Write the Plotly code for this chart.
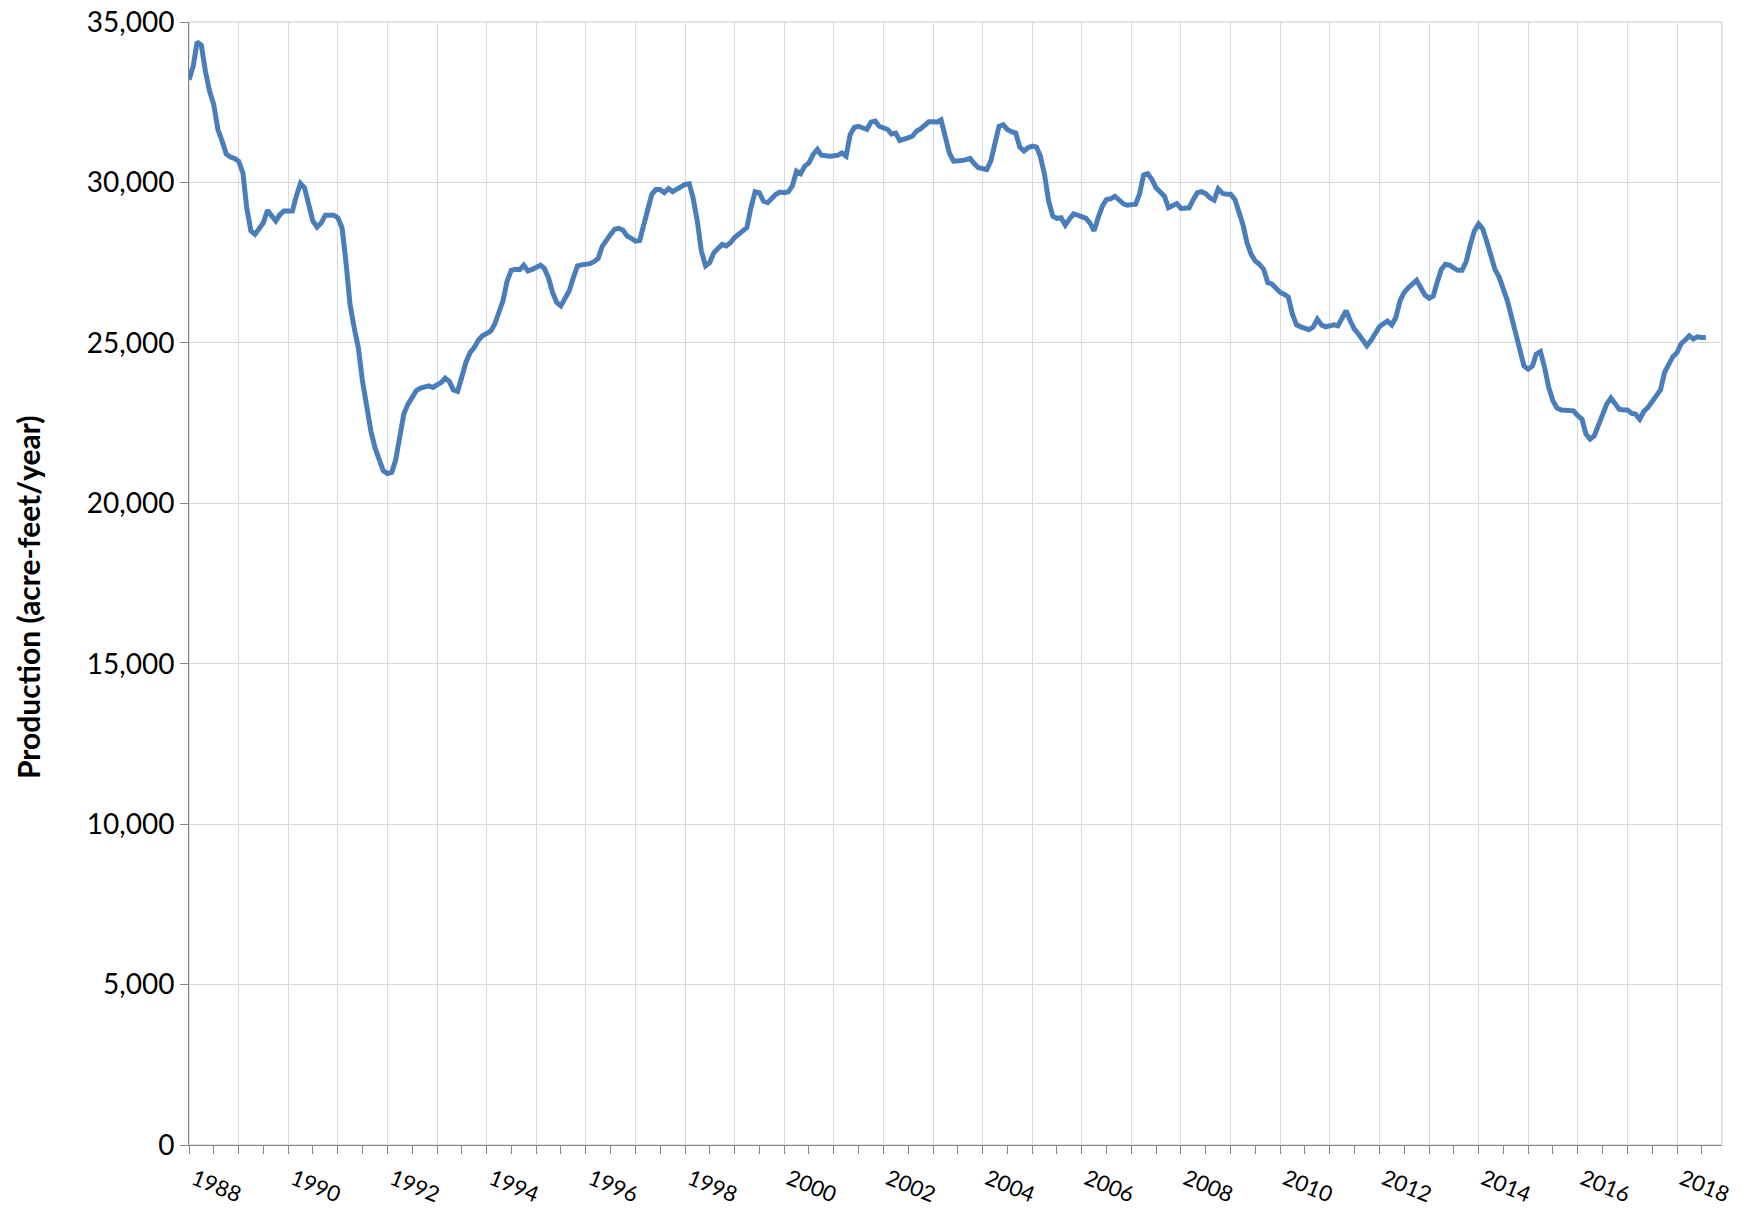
import pandas as pd
import plotly.graph_objects as go

# Monthly production (acre-feet/year), Jan 1988 .. Aug 2018
start_month = "1988-01-01"
production = [
    # 1988
    33200, 33620, 34380, 34270, 33460, 32840, 32430, 31650, 31290, 30890, 30790, 30750,
    # 1989
    30660, 30300, 29210, 28490, 28380, 28570, 28740, 29130, 28950, 28800, 29000, 29110,
    # 1990
    29110, 29110, 29570, 29970, 29830, 29260, 28800, 28610, 28740, 28980, 28980, 28980,
    # 1991
    28900, 28590, 27550, 26200, 25480, 24850, 23820, 22990, 22260, 21740, 21330, 21020,
    # 1992
    20930, 20960, 21330, 22050, 22780, 23090, 23300, 23510, 23590, 23630, 23660, 23610,
    # 1993
    23690, 23770, 23900, 23800, 23530, 23490, 23920, 24390, 24700, 24850, 25080, 25220,
    # 1994
    25290, 25370, 25580, 26000, 26310, 26930, 27260, 27290, 27280, 27420, 27240, 27290,
    # 1995
    27370, 27420, 27320, 27030, 26570, 26260, 26150, 26410, 26620, 27030, 27400, 27430,
    # 1996
    27450, 27470, 27530, 27630, 28010, 28230, 28380, 28540, 28570, 28510, 28330, 28260,
    # 1997
    28170, 28190, 28690, 29210, 29630, 29780, 29780, 29680, 29810, 29710, 29780, 29890,
    # 1998
    29940, 29960, 29520, 28800, 27860, 27400, 27500, 27810, 27970, 28070, 28020, 28120,
    # 1999
    28280, 28380, 28460, 28590, 29210, 29710, 29680, 29420, 29370, 29520, 29630, 29700,
    # 2000
    29680, 29710, 29890, 30350, 30270, 30510, 30610, 30870, 31030, 30850, 30820, 30820,
    # 2001
    30830, 30850, 30920, 30820, 31490, 31720, 31750, 31700, 31650, 31880, 31910, 31750,
    # 2002
    31680, 31650, 31510, 31540, 31310, 31340, 31390, 31440, 31600, 31670, 31780, 31890,
    # 2003
    31890, 31880, 31950, 31490, 30920, 30660, 30660, 30680, 30710, 30750, 30580, 30460,
    # 2004
    30430, 30400, 30660, 31180, 31750, 31800, 31650, 31580, 31540, 31100, 30980, 31080,
    # 2005
    31130, 31100, 30820, 30250, 29420, 28950, 28880, 28900, 28670, 28850, 29020, 28980,
    # 2006
    28950, 28880, 28740, 28490, 28900, 29260, 29470, 29490, 29570, 29470, 29340, 29290,
    # 2007
    29320, 29320, 29630, 30230, 30270, 30090, 29830, 29680, 29570, 29210, 29290, 29340,
    # 2008
    29190, 29190, 29210, 29470, 29680, 29710, 29650, 29520, 29450, 29800, 29660, 29630,
    # 2009
    29630, 29470, 29110, 28690, 28120, 27760, 27550, 27450, 27290, 26880, 26830, 26700,
    # 2010
    26570, 26510, 26430, 25890, 25560, 25500, 25460, 25410, 25500, 25740, 25560, 25500,
    # 2011
    25530, 25560, 25530, 25810, 26000, 25680, 25430, 25270, 25080, 24910, 25080, 25320,
    # 2012
    25500, 25600, 25680, 25560, 25790, 26310, 26570, 26720, 26830, 26950, 26720, 26490,
    # 2013
    26390, 26460, 26880, 27290, 27450, 27420, 27340, 27260, 27260, 27530, 28070, 28490,
    # 2014
    28710, 28540, 28170, 27710, 27290, 27050, 26720, 26310, 25790, 25270, 24750, 24280,
    # 2015
    24180, 24280, 24650, 24730, 24240, 23610, 23200, 22970, 22910, 22910, 22910, 22880,
    # 2016
    22730, 22620, 22160, 22000, 22100, 22460, 22800, 23090, 23280, 23090, 22930, 22910,
    # 2017
    22910, 22800, 22780, 22620, 22860, 22990, 23170, 23350, 23530, 24080, 24340, 24570,
    # 2018
    24700, 24980, 25080, 25220, 25120, 25190, 25170, 25170,
]
dates = pd.date_range(start=start_month, periods=len(production), freq="MS")

years = list(range(1988, 2019))
year_ticks = [f"{y}-01-01" for y in years]
year_labels = [str(y) if y % 2 == 0 else "" for y in years]
half_ticks = [f"{y}-07-01" for y in years]

y_ticks = [0, 5000, 10000, 15000, 20000, 25000, 30000, 35000]
y_title = "Production (acre-feet/year)"

AXIS = "#868686"
GRID = "#d9d9d9"
FONT = "Lato"

fig = go.Figure()
fig.add_trace(go.Scatter(
    x=dates, y=production, mode="lines",
    line=dict(color="#4a7ebb", width=5),
    showlegend=False,
))

fig.update_layout(
    width=1741, height=1210,
    margin=dict(l=189, r=19, t=22, b=65),
    paper_bgcolor="white", plot_bgcolor="white",
    font=dict(family=FONT, size=21, color="black"),
    shapes=[dict(type="rect", xref="paper", yref="paper", x0=0, x1=1, y0=0, y1=1,
                 line=dict(color="#c8c8c8", width=1), layer="below")],
    annotations=[dict(text=f"<b>{y_title}</b>", textangle=-90,
                      xref="paper", yref="paper", x=-0.105, y=0.488,
                      xanchor="center", yanchor="middle", showarrow=False,
                      font=dict(family=FONT, size=30, color="black"))],
)
fig.update_xaxes(
    type="date",
    automargin=False,
    range=["1988-01-01", "2018-11-28"],
    tickmode="array", tickvals=year_ticks, ticktext=year_labels,
    tickangle=22,
    ticklabelstandoff=4,
    ticklabelshift=5,
    ticklabeloverflow="allow",
    showgrid=True, gridcolor=GRID, gridwidth=1,
    showline=True, linecolor=AXIS, linewidth=1,
    ticks="outside", ticklen=8, tickcolor=AXIS,
    minor=dict(tickmode="array", tickvals=half_ticks, ticks="outside",
               ticklen=8, tickcolor=AXIS, showgrid=False),
    tickfont=dict(family=FONT, size=22, color="black"),
    zeroline=False,
)
fig.update_yaxes(
    automargin=False,
    range=[0, 35000],
    tickmode="array", tickvals=y_ticks,
    tickformat=",",
    ticklabeloverflow="allow",
    showgrid=True, gridcolor=GRID, gridwidth=1,
    showline=True, linecolor=AXIS, linewidth=1,
    ticks="outside", ticklen=8, tickcolor=AXIS,
    zeroline=False,
    tickfont=dict(family=FONT, size=28, color="black"),
)

# remove the default page margin so the figure fills the window exactly
fig.write_html(
    "out.html",
    config={"displayModeBar": False},
    post_script="document.body.style.margin='0';document.body.style.overflow='hidden';",
)
